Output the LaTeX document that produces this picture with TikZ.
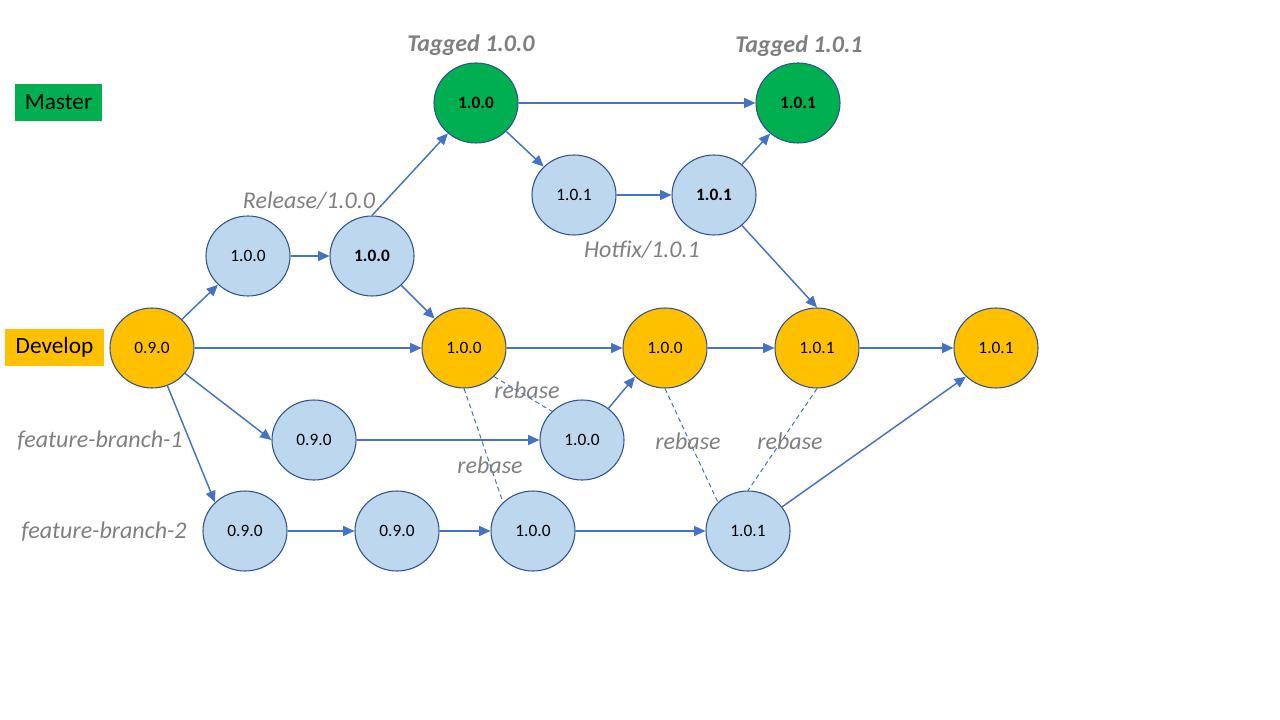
\documentclass[tikz,border=0pt]{standalone}
\usepackage{fontspec}
\setmainfont{Carlito}
\usetikzlibrary{arrows.meta,shapes.geometric}
\definecolor{lnblue}{HTML}{4472C4}
\definecolor{bord}{HTML}{2F528F}
\definecolor{lblue}{HTML}{BDD7EE}
\definecolor{orng}{HTML}{FFC000}
\definecolor{grn}{HTML}{00B050}
\definecolor{gry}{HTML}{7F7F7F}
\tikzset{
  commit/.style={ellipse, draw=bord, line width=0.8pt, minimum width=63pt, minimum height=60pt, inner sep=0pt, font=\fontsize{13}{15}\selectfont},
  feat/.style={commit, fill=lblue},
  dev/.style={commit, fill=orng},
  mast/.style={commit, fill=grn, font=\fontsize{13}{15}\selectfont\bfseries},
  lbl/.style={text=gry, font=\fontsize{18}{21}\selectfont\itshape},
  tag/.style={text=gry, font=\fontsize{18}{21}\selectfont\bfseries\itshape},
  arr/.style={draw=lnblue, line width=1.1pt, -{Triangle[length=8.5pt,width=7.5pt]}},
  dsh/.style={draw=lnblue, line width=0.75pt, dash pattern=on 3.5pt off 2.5pt},
  branchbox/.style={rectangle, inner sep=0pt, minimum height=28pt, font=\fontsize{17.5}{20}\selectfont}
}
\begin{document}
\begin{tikzpicture}[x=0.75pt, y=-0.75pt]
\useasboundingbox (0,0) rectangle (1280,720);
% branch labels
\node[branchbox, fill=grn, minimum width=65pt] (master) at (58.5,102.5) {Master};
\node[branchbox, fill=orng, minimum width=74pt] (develop) at (54.5,347.5) {\raisebox{-1pt}{Develop}};
% commits
\node[mast] (M0) at (476,103) {1.0.0};
\node[mast] (M1) at (798,103) {1.0.1};
\node[feat] (H1) at (574,195) {1.0.1};
\node[feat, font=\fontsize{13}{15}\selectfont\bfseries] (H2) at (714,195) {1.0.1};
\node[feat] (R1) at (248,256) {1.0.0};
\node[feat, font=\fontsize{13}{15}\selectfont\bfseries] (R2) at (372,256) {1.0.0};
\node[dev] (D0) at (152,348) {0.9.0};
\node[dev] (D1) at (464,348) {1.0.0};
\node[dev] (D2) at (665,348) {1.0.0};
\node[dev] (D3) at (817,348) {1.0.1};
\node[dev] (D4) at (996,348) {1.0.1};
\node[feat] (F1a) at (314,440) {0.9.0};
\node[feat] (F1b) at (582,440) {1.0.0};
\node[feat] (F2a) at (245,531) {0.9.0};
\node[feat] (F2b) at (397,531) {0.9.0};
\node[feat] (F2c) at (533,531) {1.0.0};
\node[feat] (F2d) at (748,531) {1.0.1};
% labels
\node[tag] (t0) at (471,45) {Tagged 1.0.0};
\node[tag] (t1) at (799,46) {Tagged 1.0.1};
\node[lbl] (rel) at (309,201) {Release/1.0.0};
\node[lbl] (hot) at (642,250) {Hotfix/1.0.1};
\node[lbl] (fb1) at (100,441) {feature-branch-1};
\node[lbl] (fb2) at (104,532) {feature-branch-2};
% dashed rebase lines
\draw[dsh] (D1.south east) -- (F1b.north west);
\draw[dsh] (D1.south) -- (F2c.north west);
\draw[dsh] (D2.south) -- (F2d.north west);
\draw[dsh] (D3.south) -- (F2d.north);
\node[lbl] (rb1) at (527,390) {rebase};
\node[lbl] (rb2) at (490,465) {rebase};
\node[lbl] (rb3) at (688,441) {rebase};
\node[lbl] (rb4) at (790,441) {rebase};
% arrows
\draw[arr] (D0) -- (R1);
\draw[arr] (R1) -- (R2);
\draw[arr] (R2.north) -- (M0);
\draw[arr] (R2) -- (D1);
\draw[arr] (M0) -- (M1);
\draw[arr] (M0) -- (H1);
\draw[arr] (H1) -- (H2);
\draw[arr] (H2) -- (M1);
\draw[arr] (H2) -- (D3.north);
\draw[arr] (D0) -- (D1);
\draw[arr] (D1) -- (D2);
\draw[arr] (D2) -- (D3);
\draw[arr] (D3) -- (D4);
\draw[arr] (D0) -- (F1a.west);
\draw[arr] (F1a) -- (F1b);
\draw[arr] (F1b) -- (D2.south west);
\draw[arr] (D0) -- (F2a.north west);
\draw[arr] (F2a) -- (F2b);
\draw[arr] (F2b) -- (F2c);
\draw[arr] (F2c) -- (F2d);
\draw[arr] (F2d) -- (D4.south west);
\end{tikzpicture}
\end{document}
